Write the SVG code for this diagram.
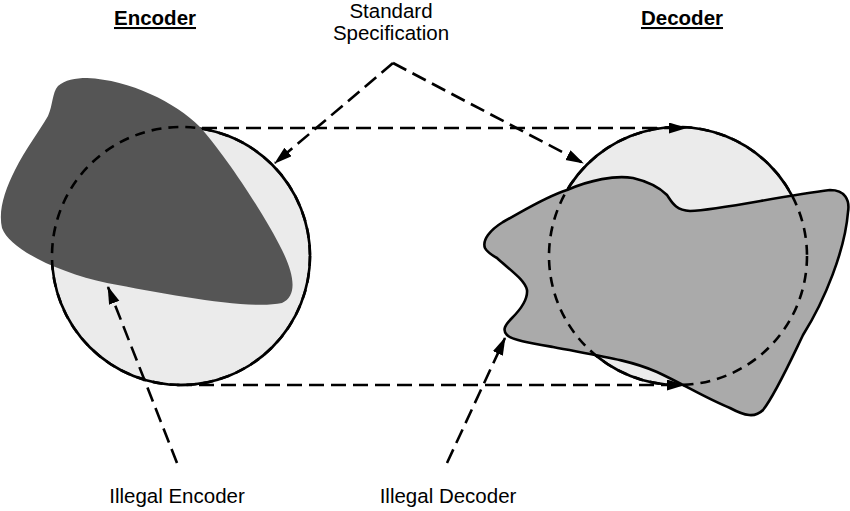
<svg xmlns="http://www.w3.org/2000/svg" width="850" height="511" viewBox="0 0 850 511">
<style>
.lbl{font-family:"Liberation Sans",Arial,sans-serif;font-size:20.5px;fill:#000;text-anchor:middle}
.hdr{font-weight:bold;text-decoration:underline}
.conn{fill:none;stroke:#000;stroke-width:2.6;stroke-dasharray:15 7}
.circ{fill:#ebebeb;stroke:#000;stroke-width:2.6}
.circd{fill:none;stroke:#000;stroke-width:2.6;stroke-dasharray:10 7}
</style>
<defs>
<marker id="ah" markerUnits="userSpaceOnUse" markerWidth="18" markerHeight="12" refX="17" refY="5.5" orient="auto">
<path d="M0,0 L18,5.5 L0,11 Z" fill="#000"/>
</marker>
</defs>
<rect width="850" height="511" fill="#fff"/>
<g id="encoder">
<circle class="circ" cx="181" cy="256" r="129"/>
<path d="M87,78 C130,80 175,102 200,127 C225,155 265,215 282,250 C294,274 298,296 282,303 C250,310 170,295 107,283 C60,273 10,250 2,228 C-2,210 5,190 15,170 C25,150 40,130 48,116 C53,105 52,93 58,86 C65,80 75,78 87,78 Z" fill="#555555"/>
<circle class="circd" cx="181" cy="256" r="129"/>
<text class="lbl hdr" x="155" y="25">Encoder</text>
</g>
<g id="decoder">
<circle class="circ" cx="678" cy="256" r="129"/>
<path d="M485,248 C482,240 490,230 503,222 C525,210 545,197 567,190 C590,180 615,175 633,178 C650,182 660,188 667,195 C672,202 675,210 690,211 C720,210 780,196 830,190 C845,190 850,200 848,212 C845,250 825,300 803,335 C790,362 775,395 763,410 C755,418 745,416 730,408 C705,398 685,385 657,372 C630,360 600,356 553,347 C530,343 512,340 507,335 C502,330 505,325 512,318 C520,310 528,300 527,290 C525,280 510,270 497,258 C490,254 487,252 485,248 Z" fill="#aaaaaa" stroke="#000" stroke-width="2.6"/>
<circle class="circd" cx="678" cy="256" r="129"/>
<text class="lbl hdr" x="682" y="25">Decoder</text>
</g>
<g id="standard">
<text class="lbl" x="391" y="18">Standard</text>
<text class="lbl" x="391" y="40">Specification</text>
</g>
<g id="illegal-encoder">
<text class="lbl" x="177" y="503">Illegal Encoder</text>
</g>
<g id="illegal-decoder">
<text class="lbl" x="448" y="503">Illegal Decoder</text>
</g>
<g id="connectors">
<line class="conn" x1="202" y1="128" x2="686" y2="128" marker-end="url(#ah)"/>
<line class="conn" x1="177" y1="385" x2="684" y2="385" marker-end="url(#ah)"/>
<line class="conn" x1="393" y1="63" x2="275" y2="163" marker-end="url(#ah)"/>
<line class="conn" x1="393" y1="63" x2="583" y2="163" marker-end="url(#ah)"/>
<line class="conn" x1="177" y1="463" x2="108" y2="287" marker-end="url(#ah)"/>
<line class="conn" x1="447" y1="463" x2="505" y2="338" marker-end="url(#ah)"/>
</g>
</svg>
